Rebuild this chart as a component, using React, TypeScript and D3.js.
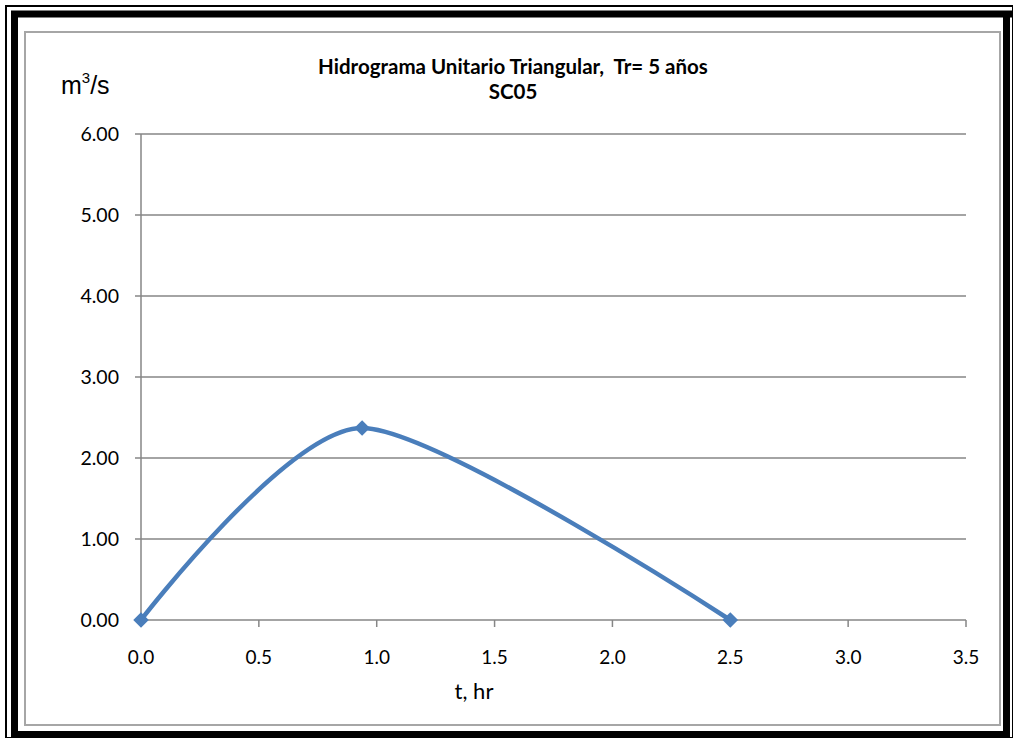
import React from "react";
import * as d3 from "d3";

// Hydrograph points: time (hr) and discharge (m³/s)
const timeHr = [0, 0.938, 2.5];
const flowM3s = [0, 2.37, 0];

const xTicks = [0, 0.5, 1.0, 1.5, 2.0, 2.5, 3.0, 3.5];
const yTicks = [0, 1, 2, 3, 4, 5, 6];

const titleLine1 = "Hidrograma Unitario Triangular,  Tr= 5 años";
const titleLine2 = "SC05";
const xLabel = "t, hr";

const W = 1013;
const H = 738;
const plot = { left: 141, right: 966, top: 134, bottom: 620 };

export default function App() {
  const x = d3.scaleLinear().domain([0, 3.5]).range([plot.left, plot.right]);
  const y = d3.scaleLinear().domain([0, 6]).range([plot.bottom, plot.top]);

  const pts: [number, number][] = timeHr.map((t, i) => [t, flowM3s[i]]);
  const line = d3
    .line<[number, number]>()
    .x((d) => x(d[0]))
    .y((d) => y(d[1]))
    .curve(d3.curveCardinal.tension(0.25));

  const grid = "#868686";
  const blue = "#4a7ebb";
  const font = "Lato, 'Open Sans', sans-serif";
  const mk = 11;

  return (
    <svg
      width={W}
      height={H}
      style={{ position: "absolute", left: 0, top: 0, background: "#fff" }}
    >
      {/* outer frame */}
      <rect x={0} y={0} width={W} height={H} fill="#fff" />
      <rect x={6} y={6} width={W - 6} height={H - 6} fill="none" stroke="#000" strokeWidth={2} />
      <path d={`M14.5,${H} V14 H${W}`} fill="none" stroke="#000" strokeWidth={7} />
      <path d={`M1006.5,14 V734.5 H14`} fill="none" stroke="#000" strokeWidth={7} />
      {/* chart area border */}
      <rect x={25} y={32} width={975} height={693} fill="#fff" stroke="#a6a6a6" strokeWidth={2} />

      {/* horizontal gridlines */}
      {yTicks.map((v) => (
        <line
          key={"g" + v}
          x1={plot.left - 6}
          x2={plot.right}
          y1={y(v)}
          y2={y(v)}
          stroke={grid}
          strokeWidth={1.5}
        />
      ))}
      {/* y axis */}
      <line x1={plot.left} x2={plot.left} y1={plot.top} y2={plot.bottom} stroke={grid} strokeWidth={1.5} />
      {/* x ticks */}
      {xTicks.map((v) => (
        <line
          key={"t" + v}
          x1={x(v)}
          x2={x(v)}
          y1={plot.bottom}
          y2={plot.bottom + 7}
          stroke={grid}
          strokeWidth={1.5}
        />
      ))}

      {/* y tick labels */}
      {yTicks.map((v) => (
        <text
          key={"yl" + v}
          x={119}
          y={y(v) + 7}
          textAnchor="end"
          fontFamily={font}
          fontSize={19.5}
          fill="#000"
        >
          {v.toFixed(2)}
        </text>
      ))}
      {/* x tick labels */}
      {xTicks.map((v) => (
        <text
          key={"xl" + v}
          x={x(v)}
          y={664}
          textAnchor="middle"
          fontFamily={font}
          fontSize={19}
          fill="#000"
        >
          {v.toFixed(1)}
        </text>
      ))}

      {/* series */}
      <path d={line(pts) ?? ""} fill="none" stroke={blue} strokeWidth={4.5} strokeLinejoin="round" />
      {pts.map((d, i) => (
        <rect
          key={"m" + i}
          x={x(d[0]) - mk / 2}
          y={y(d[1]) - mk / 2}
          width={mk}
          height={mk}
          fill={blue}
          transform={`rotate(45 ${x(d[0])} ${y(d[1])})`}
        />
      ))}

      {/* titles */}
      <text
        x={513}
        y={74}
        textAnchor="middle"
        fontFamily={font}
        fontWeight="bold"
        fontSize={20.5}
        fill="#000"
        style={{ whiteSpace: "pre" }}
      >
        {titleLine1}
      </text>
      <text x={513} y={99} textAnchor="middle" fontFamily={font} fontWeight="bold" fontSize={20.5} fill="#000">
        {titleLine2}
      </text>

      {/* axis labels */}
      <text x={61} y={94} fontFamily="'Liberation Sans', Arial, sans-serif" fontSize={25} fill="#000">
        m<tspan dy={-11} fontSize={15}>3</tspan>
        <tspan dy={11}>/s</tspan>
      </text>
      <text x={474} y={699} textAnchor="middle" fontFamily={font} fontSize={22} fill="#000">
        {xLabel}
      </text>
    </svg>
  );
}
